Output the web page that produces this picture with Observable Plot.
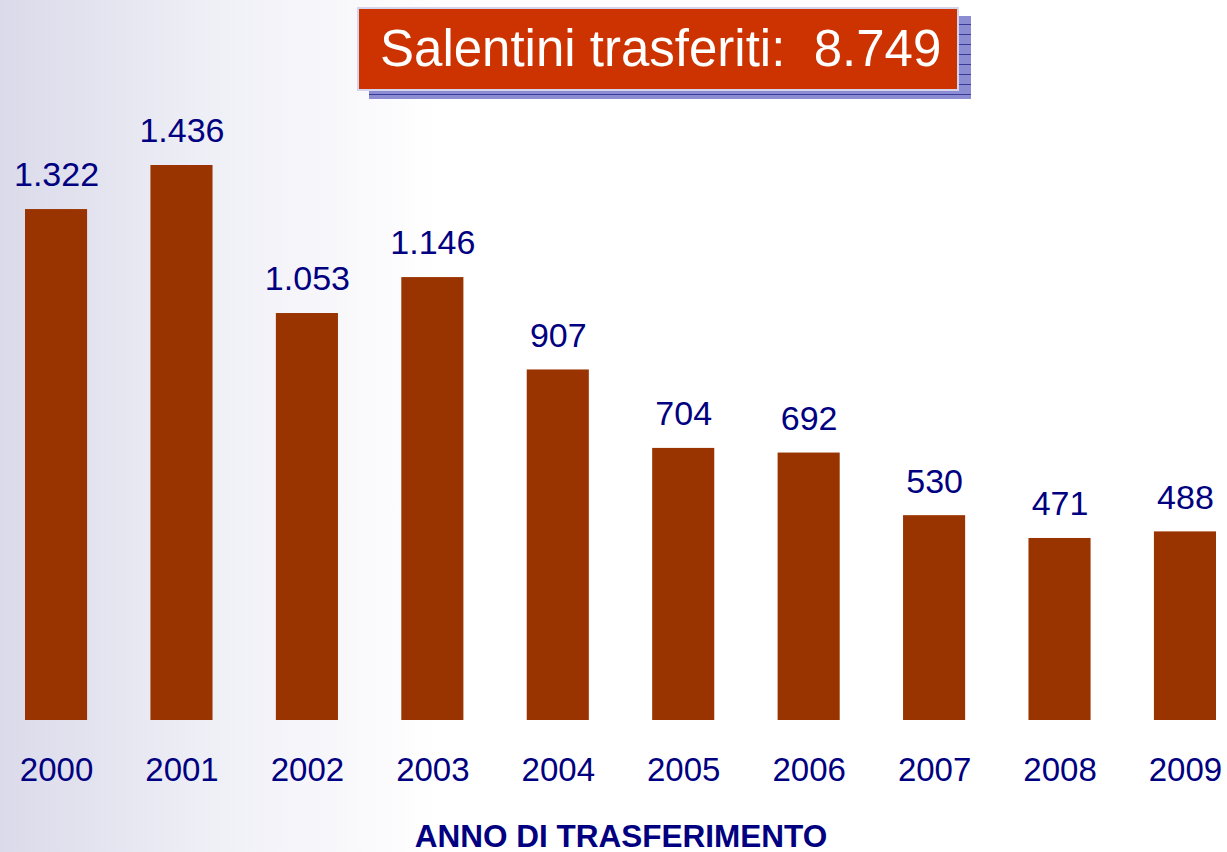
<!DOCTYPE html>
<html>
<head>
<meta charset="utf-8">
<script src="https://cdn.jsdelivr.net/npm/d3@7"></script>
<script src="https://cdn.jsdelivr.net/npm/@observablehq/plot@0.6"></script>
<style>
  html, body { margin: 0; padding: 0; }
  body {
    width: 1227px; height: 852px; overflow: hidden; position: relative;
    background: linear-gradient(to right, #dadaea 0px, #eeeef6 200px, #ffffff 440px, #ffffff 100%);
    font-family: "Liberation Sans", Arial, sans-serif;
  }
  #chart { position: absolute; left: 0; top: 0; }
  #shadow {
    position: absolute; left: 369px; top: 16px; width: 602px; height: 83px;
    background: repeating-linear-gradient(to bottom, #8c8cd2 0px, #8c8cd2 8px, #3a3a9a 8px, #3a3a9a 9px, #8c8cd2 9px, #8c8cd2 10px);
  }
  #title {
    position: absolute; left: 357px; top: 7px; width: 602px; height: 84px;
    background: #cc3300; border: 2px solid #d4d4ee;
    color: #ffffff; font-size: 51px; line-height: 80px;
    padding-left: 21px; box-sizing: border-box; white-space: pre;
    font-family: "Liberation Sans", Arial, sans-serif;
  }
</style>
</head>
<body>
<div id="chart"></div>
<div id="shadow"></div>
<div id="title">Salentini trasferiti:  8.749</div>
<script>
const years = ["2000","2001","2002","2003","2004","2005","2006","2007","2008","2009"];
const values = [1322, 1436, 1053, 1146, 907, 704, 692, 530, 471, 488];
const axisLabel = "ANNO DI TRASFERIMENTO";

const data = years.map((y, i) => ({year: y, value: values[i]}));
const it = d3.formatLocale({decimal: ",", thousands: ".", grouping: [3], currency: ["€", ""]});
const fmt = it.format(",");

const chart = Plot.plot({
  width: 1227,
  height: 852,
  marginLeft: 25,
  marginRight: 11,
  marginTop: 165,
  marginBottom: 132,
  style: {background: "transparent", fontFamily: "'Liberation Sans', Arial, sans-serif", overflow: "visible"},
  x: {domain: years, paddingInner: 0.505, paddingOuter: 0, round: false, label: null},
  y: {domain: [0, 1436], axis: null},
  marks: [
    Plot.barY(data, {x: "year", y: "value", fill: "#993300"}),
    Plot.text(data, {x: "year", y: "value", text: d => fmt(d.value), dy: -34, lineAnchor: "middle",
      fill: "#000080", fontSize: 34}),
    Plot.axisX({tickSize: 0, tickPadding: 37, fontSize: 33, color: "#000080", label: null}),
    Plot.text([axisLabel], {frameAnchor: "bottom", dy: 116, lineAnchor: "middle",
      fill: "#000080", fontSize: 31.5, fontWeight: "bold", text: d => d})
  ]
});
document.getElementById("chart").appendChild(chart);
</script>
</body>
</html>
